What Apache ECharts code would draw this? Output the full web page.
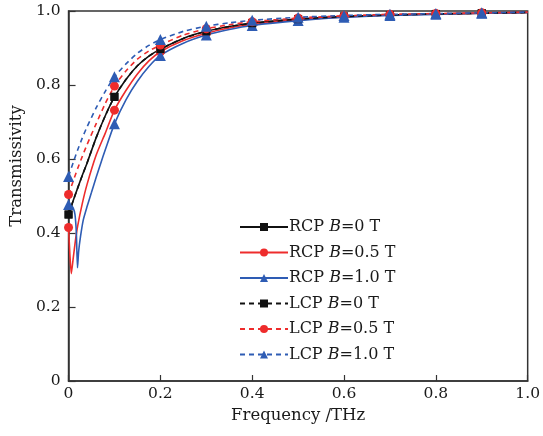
<!DOCTYPE html>
<html>
<head>
<meta charset="utf-8">
<script src="https://cdn.jsdelivr.net/npm/echarts@6/dist/echarts.min.js"></script>
<style>
html,body{margin:0;padding:0;background:#fff;}
#chart{width:543px;height:436px;}
</style>
</head>
<body>
<div id="chart"></div>
<script>
// ---- data ----
const xTicks = [0, 0.2, 0.4, 0.6, 0.8, 1.0];
const yTicks = [0, 0.2, 0.4, 0.6, 0.8, 1.0];
const markerFreq = [0, 0.1, 0.2, 0.3, 0.4, 0.5, 0.6, 0.7, 0.8, 0.9];

const freqCommon = [0,0.01,0.02,0.03,0.04,0.06,0.08,0.1,0.125,0.15,0.175,0.2,0.25,0.3,0.35,0.4,0.5,0.6,0.7,0.8,0.9,1.0];
const tB0   = [0.45,0.487,0.522,0.556,0.588,0.657,0.717,0.768,0.815,0.852,0.878,0.897,0.926,0.945,0.958,0.967,0.978,0.985,0.989,0.992,0.994,0.996];
const tLcp05 = [0.504,0.54,0.575,0.607,0.638,0.695,0.75,0.797,0.838,0.87,0.892,0.908,0.935,0.952,0.963,0.971,0.981,0.987,0.991,0.993,0.995,0.997];
const tLcp10 = [0.553,0.59,0.625,0.657,0.686,0.738,0.783,0.822,0.857,0.886,0.907,0.923,0.945,0.959,0.968,0.975,0.983,0.988,0.991,0.993,0.995,0.997];

const fRcp05 = [0,0.003,0.006,0.01,0.015,0.02,0.03,0.04,0.06,0.08,0.1,0.125,0.15,0.175,0.2,0.25,0.3,0.35,0.4,0.5,0.6,0.7,0.8,0.9,1.0];
const tRcp05 = [0.415,0.34,0.29,0.33,0.38,0.42,0.48,0.53,0.61,0.67,0.732,0.785,0.83,0.865,0.89,0.92,0.94,0.954,0.964,0.976,0.984,0.989,0.992,0.994,0.996];

const fRcp10 = [0,0.005,0.01,0.014,0.017,0.0195,0.022,0.026,0.032,0.04,0.05,0.06,0.07,0.08,0.1,0.125,0.15,0.175,0.2,0.25,0.3,0.35,0.4,0.5,0.6,0.7,0.8,0.9,1.0];
const tRcp10 = [0.477,0.475,0.468,0.45,0.40,0.306,0.35,0.39,0.435,0.47,0.51,0.55,0.588,0.625,0.695,0.76,0.81,0.85,0.88,0.913,0.935,0.95,0.961,0.974,0.983,0.988,0.991,0.994,0.996];

const seriesNames = ['RCP B=0 T','RCP B=0.5 T','RCP B=1.0 T','LCP B=0 T','LCP B=0.5 T','LCP B=1.0 T'];

// ---- build chart ----
const BLACK = '#111111', RED = '#ee2c2c', BLUE = '#2e5cb4';
const FONT = 'DejaVu Serif';
const TXT = '#1a1a1a';

function pairs(fs, ts) {
  return fs.map((f, i) => {
    const isMarker = markerFreq.some(m => Math.abs(m - f) < 1e-9);
    return isMarker ? { value: [f, ts[i]] } : { value: [f, ts[i]], symbol: 'none' };
  });
}

const defs = [
  { name: seriesNames[0], f: freqCommon, t: tB0,    color: BLACK, symbol: 'rect',     size: 8,  dash: 'solid' },
  { name: seriesNames[1], f: fRcp05,     t: tRcp05, color: RED,   symbol: 'circle',   size: 9,  dash: 'solid' },
  { name: seriesNames[2], f: fRcp10,     t: tRcp10, color: BLUE,  symbol: 'triangle', size: 11, dash: 'solid' },
  { name: seriesNames[3], f: freqCommon, t: tB0,    color: BLACK, symbol: 'rect',     size: 8,  dash: [5, 4] },
  { name: seriesNames[4], f: freqCommon, t: tLcp05, color: RED,   symbol: 'circle',   size: 9,  dash: [5, 4] },
  { name: seriesNames[5], f: freqCommon, t: tLcp10, color: BLUE,  symbol: 'triangle', size: 11, dash: [5, 4] }
];

const series = defs.map(d => ({
  name: d.name,
  type: 'line',
  data: pairs(d.f, d.t),
  symbol: d.symbol,
  symbolSize: d.size,
  showAllSymbol: true,
  smooth: 0.2,
  color: d.color,
  itemStyle: { color: d.color },
  lineStyle: { color: d.color, width: 1.6, type: d.dash },
  animation: false,
  clip: true
}));

const chart = echarts.init(document.getElementById('chart'), null, { renderer: 'canvas' });
const tickFmt = v => (v === 0 ? '0' : v.toFixed(1));
chart.setOption({
  backgroundColor: '#ffffff',
  animation: false,
  textStyle: { fontFamily: FONT },
  grid: { left: 67, right: 14, top: 11, bottom: 55, show: true, borderColor: '#333', borderWidth: 1.5, backgroundColor: 'transparent' },
  xAxis: {
    type: 'value', min: 0, max: 1, interval: 0.2,
    name: 'Frequency /THz', nameLocation: 'middle', nameGap: 24,
    nameTextStyle: { fontFamily: FONT, fontSize: 16.5, color: TXT },
    axisLine: { show: true, lineStyle: { color: '#333', width: 1.5 } },
    axisTick: { show: true, inside: true, length: 6, lineStyle: { color: '#333', width: 1.2 } },
    axisLabel: { formatter: tickFmt, fontFamily: FONT, fontSize: 15.5, color: TXT, margin: 5,
                 customValues: xTicks },
    splitLine: { show: false }
  },
  yAxis: {
    type: 'value', min: 0, max: 1, interval: 0.2,
    name: 'Transmissivity', nameLocation: 'middle', nameGap: 31, nameRotate: 90,
    nameTextStyle: { fontFamily: FONT, fontSize: 16.5, color: TXT, padding: [0, 0, 0, 60] },
    axisLine: { show: true, lineStyle: { color: '#333', width: 1.5 } },
    axisTick: { show: true, inside: true, length: 7, lineStyle: { color: '#333', width: 1.2 } },
    axisLabel: { formatter: tickFmt, fontFamily: FONT, fontSize: 15.5, color: TXT, margin: 8,
                 customValues: yTicks },
    splitLine: { show: false }
  },
  legend: {
    data: seriesNames,
    orient: 'vertical',
    left: 234, top: 214,
    itemWidth: 48, itemHeight: 10, itemGap: 9.5,
    formatter: name => '{n|' + name.replace('B=', '}{i|B}{n|=') + '}',
    textStyle: {
      fontFamily: FONT, fontSize: 16, color: TXT, lineHeight: 16, padding: [0, 0, 0, -4],
      rich: {
        n: { fontFamily: FONT, fontSize: 16, color: TXT },
        i: { fontFamily: FONT, fontSize: 16, color: TXT, fontStyle: 'italic' }
      }
    }
  },
  series: series
});
</script>
</body>
</html>
